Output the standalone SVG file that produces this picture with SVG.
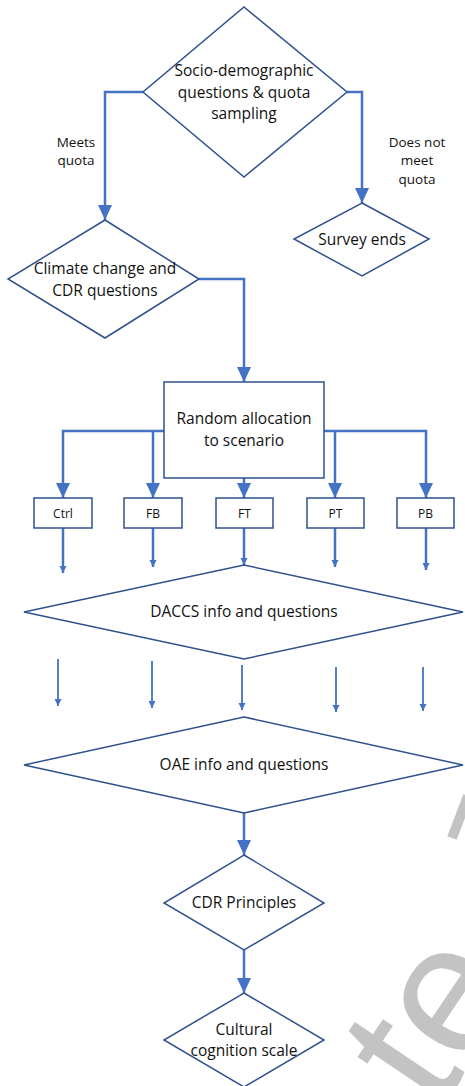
<svg xmlns="http://www.w3.org/2000/svg" width="465" height="1086" viewBox="0 0 465 1086">
<style>
.shape{fill:#ffffff;stroke:#2F528F;stroke-width:1.5}
.conn{fill:none;stroke:#4472C4;stroke-width:2.5}
.thin{fill:none;stroke:#4472C4;stroke-width:1.8}
text{font-family:"Open Sans","Liberation Sans",sans-serif;fill:#111111;text-anchor:middle}
.t{font-size:15.5px}
.lbl{font-size:13.5px}
.sm{font-size:12px}
.wm{font-family:"Liberation Sans",Arial,sans-serif;fill:#c3c3c3;text-anchor:start;font-size:185px}
</style>
<defs>
<marker id="big" markerUnits="userSpaceOnUse" markerWidth="16" markerHeight="16" refX="15" refY="7" orient="auto" viewBox="0 0 16 14">
<path d="M0,0 L15,7 L0,14 z" fill="#4472C4"/>
</marker>
<marker id="small" markerUnits="userSpaceOnUse" markerWidth="8" markerHeight="8" refX="7" refY="3.5" orient="auto" viewBox="0 0 8 7">
<path d="M0,0 L7,3.5 L0,7 z" fill="#4472C4"/>
</marker>
</defs>
<g id="watermark">
<text class="wm" transform="translate(437,1114) rotate(-56)">te</text>
<line x1="452" y1="838" x2="468" y2="796" stroke="#c3c3c3" stroke-width="10"/>
</g>
<g id="connectors">
<path class="conn" d="M143,92 H105 V220" marker-end="url(#big)"/>
<path class="conn" d="M347,92 H362 V203" marker-end="url(#big)"/>
<path class="conn" d="M199,279 H244 V382" marker-end="url(#big)"/>
<path class="conn" d="M164,431 H63 V498" marker-end="url(#big)"/>
<path class="conn" d="M153,431 V498" marker-end="url(#big)"/>
<path class="conn" d="M244,478 V498" marker-end="url(#big)"/>
<path class="conn" d="M324,431 H426 V498" marker-end="url(#big)"/>
<path class="conn" d="M335,431 V498" marker-end="url(#big)"/>
<path class="conn" d="M63,528 V573" marker-end="url(#small)"/>
<path class="conn" d="M153,528 V567" marker-end="url(#small)"/>
<path class="conn" d="M244,528 V565" marker-end="url(#small)"/>
<path class="conn" d="M335,528 V567" marker-end="url(#small)"/>
<path class="conn" d="M426,528 V570" marker-end="url(#small)"/>
<path class="thin" d="M58,659 V706" marker-end="url(#small)"/>
<path class="thin" d="M152,661 V708" marker-end="url(#small)"/>
<path class="thin" d="M242,665 V710" marker-end="url(#small)"/>
<path class="thin" d="M336,667 V712" marker-end="url(#small)"/>
<path class="thin" d="M423,667 V711" marker-end="url(#small)"/>
<path class="conn" d="M244,813 V855" marker-end="url(#big)"/>
<path class="conn" d="M244,950 V993" marker-end="url(#big)"/>
</g>
<g id="edge-labels">
<text class="lbl" x="76" y="147">Meets</text>
<text class="lbl" x="76" y="165">quota</text>
<text class="lbl" x="417" y="147">Does not</text>
<text class="lbl" x="417" y="165">meet</text>
<text class="lbl" x="417" y="184">quota</text>
</g>
<g id="n-socio">
<polygon class="shape" points="244,7 347,92 244,177 143,92"/>
<text class="t" x="244" y="76">Socio-demographic</text>
<text class="t" x="244" y="97.5">questions &amp; quota</text>
<text class="t" x="244" y="119">sampling</text>
</g>
<g id="n-survey-ends">
<polygon class="shape" points="362,203 429,239 362,276 294,239"/>
<text class="t" x="362" y="245">Survey ends</text>
</g>
<g id="n-climate">
<polygon class="shape" points="105,220 199,279 105,338 8,279"/>
<text class="t" x="105" y="274">Climate change and</text>
<text class="t" x="105" y="296">CDR questions</text>
</g>
<g id="n-random">
<rect class="shape" x="164" y="382" width="160" height="96"/>
<text class="t" x="244" y="424">Random allocation</text>
<text class="t" x="244" y="446">to scenario</text>
</g>
<g id="n-ctrl">
<rect class="shape" x="34" y="498" width="58" height="30"/>
<text class="sm" x="63" y="518">Ctrl</text>
</g>
<g id="n-fb">
<rect class="shape" x="124" y="498" width="58" height="30"/>
<text class="sm" x="153" y="518">FB</text>
</g>
<g id="n-ft">
<rect class="shape" x="216" y="498" width="57" height="30"/>
<text class="sm" x="244.5" y="518">FT</text>
</g>
<g id="n-pt">
<rect class="shape" x="307" y="498" width="57" height="30"/>
<text class="sm" x="335.5" y="518">PT</text>
</g>
<g id="n-pb">
<rect class="shape" x="397" y="498" width="57" height="30"/>
<text class="sm" x="425.5" y="518">PB</text>
</g>
<g id="n-daccs">
<polygon class="shape" points="244,565 463,612 244,659 24,612"/>
<text class="t" x="244" y="617">DACCS info and questions</text>
</g>
<g id="n-oae">
<polygon class="shape" points="244,717 463,765 244,813 24,765"/>
<text class="t" x="244" y="770">OAE info and questions</text>
</g>
<g id="n-cdr-principles">
<polygon class="shape" points="244,855 324,903 244,950 164,903"/>
<text class="t" x="244" y="908">CDR Principles</text>
</g>
<g id="n-cultural">
<polygon class="shape" points="244,993 324,1040 244,1087 164,1040"/>
<text class="t" x="244" y="1035">Cultural</text>
<text class="t" x="244" y="1056">cognition scale</text>
</g>
</svg>
